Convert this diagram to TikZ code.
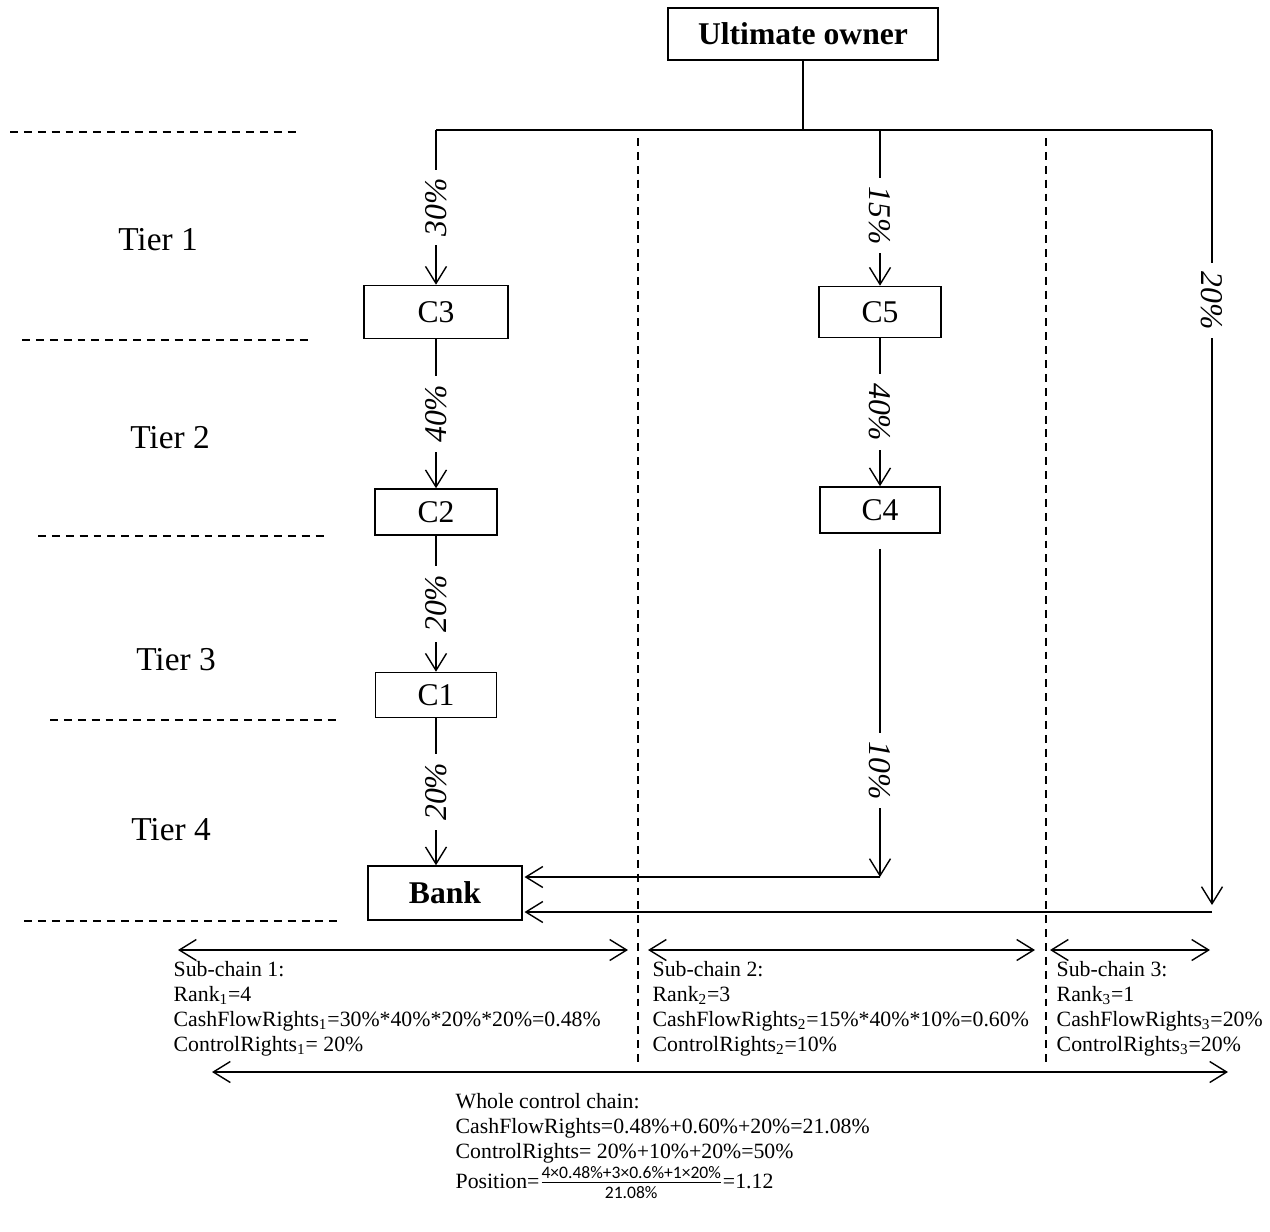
\documentclass[tikz,border=0pt]{standalone}
\usepackage{fontspec}
\setmainfont{Liberation Serif}
\newfontfamily\fracfont{Carlito}
\usetikzlibrary{arrows.meta}

\begin{document}
\begin{tikzpicture}[x=0.02cm,y=-0.02cm,line width=0.8pt,
    >={Straight Barb[length=3.4mm,width=4.2mm]},
    box/.style={draw,line width=0.9pt,inner sep=0pt,font=\fontsize{18}{20}\selectfont},
    pct/.style={fill=white,inner xsep=5pt,inner ysep=1pt,font=\fontsize{18}{20}\selectfont\itshape},
    tier/.style={font=\fontsize{19}{22}\selectfont},
    txt/.style={anchor=north west,align=left,inner sep=0pt,font=\fontsize{12.4}{14.2}\selectfont},
    guide/.style={line width=0.7pt,dash pattern=on 4.5pt off 3.4pt}]
    \useasboundingbox (0,0) rectangle (1270,1231);

    \node [box,font=\fontsize{18}{20}\selectfont\bfseries,minimum width=5.4cm,minimum height=1.04cm] (owner) at (803,34) {Ultimate owner};
    \node [box,minimum width=2.88cm,minimum height=1.06cm] (c3) at (436,312) {C3};
    \node [box,minimum width=2.44cm,minimum height=0.92cm] (c2) at (436,512) {C2};
    \node [box,minimum width=2.42cm,minimum height=0.90cm] (c1) at (436,695) {C1};
    \node [box,minimum width=2.44cm,minimum height=1.02cm] (c5) at (880,312) {C5};
    \node [box,minimum width=2.40cm,minimum height=0.92cm] (c4) at (880,510) {C4};
    \node [box,font=\fontsize{18}{20}\selectfont\bfseries,minimum width=3.08cm,minimum height=1.08cm] (bank) at (445,893) {Bank};

    \coordinate (top) at (803,130);
    \coordinate (left) at (436,130);
    \coordinate (mid) at (880,130);
    \coordinate (right) at (1212,130);
    \coordinate (in2) at (880,877);
    \coordinate (down3) at (1212,905);
    \coordinate (in3) at (1212,912);

    \draw (owner) -- (top);
    \draw (left) -- (right);
    \draw[->] (left) -- node[pct,rotate=90] {30\%} (c3);
    \draw[->] (c3) -- node[pct,rotate=90] {40\%} (c2);
    \draw[->] (c2) -- node[pct,rotate=90] {20\%} (c1);
    \draw[->] (c1.south) -- node[pct,rotate=90] {20\%} (c1.south |- bank.north);
    \draw[->] (mid) -- node[pct,rotate=-90,pos=0.55] {15\%} (c5);
    \draw[->] (c5) -- node[pct,rotate=-90] {40\%} (c4);
    \draw[->,shorten <=0.3cm] (c4) -- node[pct,rotate=-90,pos=0.69] {10\%} (in2);
    \draw[->,shorten >=1pt] (in2) -- (in2 -| bank.east);
    \draw[->] (right) -- node[pct,rotate=-90,pos=0.22] {20\%} (down3);
    \draw[->,shorten >=1pt] (in3) -- (in3 -| bank.east);

    % tiers
    \foreach \y/\a/\b in {132/10/300,340/22/312,536/38/326,720/50/338,921/24/338}
        \draw[guide] (\a,\y) -- (\b,\y);
    \draw[guide,line width=0.6pt] (638,138) -- (638,1065);
    \draw[guide,line width=0.6pt] (1046,138) -- (1046,1065);
    \node[tier] (t1) at (158,240) {Tier 1};
    \node[tier] (t2) at (170,438) {Tier 2};
    \node[tier] (t3) at (176,660) {Tier 3};
    \node[tier] (t4) at (171,830) {Tier 4};

    % sub-chains
    \coordinate (a1) at (178,950);
    \coordinate (b1) at (628,950);
    \coordinate (a2) at (648,950);
    \coordinate (b2) at (1035,950);
    \coordinate (a3) at (1050,950);
    \coordinate (b3) at (1210,950);
    \coordinate (a4) at (212,1072);
    \coordinate (b4) at (1228,1072);
    \draw[<->] (a1) -- (b1);
    \draw[<->] (a2) -- (b2);
    \draw[<->] (a3) -- (b3);
    \draw[<->] (a4) -- (b4);

    \node[txt] (s1) at (173,961) {Sub-chain 1:\\Rank\textsubscript{1}=4\\CashFlowRights\textsubscript{1}=30\%*40\%*20\%*20\%=0.48\%\\ControlRights\textsubscript{1}= 20\%};
    \node[txt] (s2) at (652,961) {Sub-chain 2:\\Rank\textsubscript{2}=3\\CashFlowRights\textsubscript{2}=15\%*40\%*10\%=0.60\%\\ControlRights\textsubscript{2}=10\%};
    \node[txt] (s3) at (1056,961) {Sub-chain 3:\\Rank\textsubscript{3}=1\\CashFlowRights\textsubscript{3}=20\%\\ControlRights\textsubscript{3}=20\%};
    \node[txt] (whole) at (455,1093) {Whole control chain:\\CashFlowRights=0.48\%+0.60\%+20\%=21.08\%\\ControlRights= 20\%+10\%+20\%=50\%};
    \node[anchor=base west,inner sep=0pt,font=\fontsize{12.4}{14.2}\selectfont] (pos) at (455,1188)
        {Position=$\frac{\mbox{\fracfont\fontsize{10}{12}\selectfont\rule[-2pt]{0pt}{2pt}4×0.48\%+3×0.6\%+1×20\%}}{\mbox{\fracfont\fontsize{10}{12}\selectfont\strut 21.08\%}}$=1.12};
\end{tikzpicture}
\end{document}
